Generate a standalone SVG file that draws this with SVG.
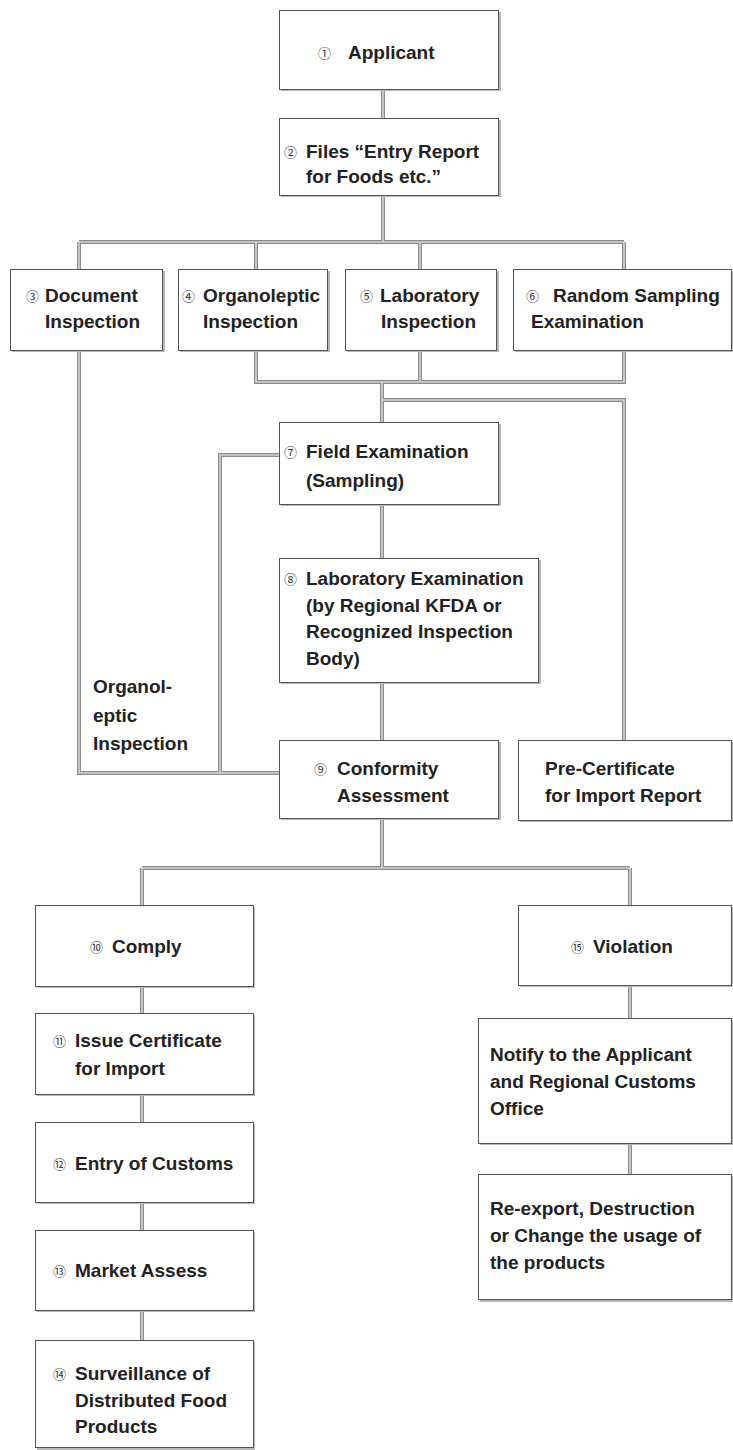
<svg xmlns="http://www.w3.org/2000/svg" width="733" height="1450" viewBox="0 0 733 1450">
<defs>
<style>
.sh{fill:#b8b8b8}
.bx{fill:#fff;stroke:#555;stroke-width:1}
.t{font-family:"Liberation Sans",Arial,sans-serif;font-weight:bold;font-size:19px;fill:#222}
.n{font-family:"Noto Sans CJK KR","DejaVu Sans",sans-serif;font-size:13px;fill:#333}
.c1{fill:none;stroke:#8c8c8c;stroke-width:4}
.c2{fill:none;stroke:#d4d4d4;stroke-width:1.6}
</style>
</defs>
<g id="connectors">
<g class="c1">
<path d="M383 90V118M383 195V242M79 242H624M79 242V269M256 242V269M420 242V269M624 242V269M79 350V773H279M256 350V382H624V350M420 350V382M382 382V422M382 400H624V740M279 455H220V773M382 504V558M382 682V740M382 818V868M142 868H630M142 868V905M630 868V905M142 986V1013M142 1094V1122M142 1202V1230M142 1310V1340M630 985V1018M630 1143V1174"/>
</g>
<g class="c2">
<path d="M383 90V118M383 195V242M79 242H624M79 242V269M256 242V269M420 242V269M624 242V269M79 350V773H279M256 350V382H624V350M420 350V382M382 382V422M382 400H624V740M279 455H220V773M382 504V558M382 682V740M382 818V868M142 868H630M142 868V905M630 868V905M142 986V1013M142 1094V1122M142 1202V1230M142 1310V1340M630 985V1018M630 1143V1174"/>
</g>
</g>
<g id="n1"><rect class="sh" x="281" y="12" width="220" height="79"/><rect class="bx" x="279.5" y="10.5" width="219" height="79"/><text class="n" x="318" y="58">①</text><text class="t" x="348" y="59">Applicant</text></g>
<g id="n2"><rect class="sh" x="281" y="120" width="220" height="77"/><rect class="bx" x="279.5" y="118.5" width="219" height="77"/><text class="n" x="284" y="157">②</text><text class="t" x="306" y="158">Files  “Entry Report</text><text class="t" x="306" y="183">for Foods etc.”</text></g>
<g id="n3"><rect class="sh" x="12" y="271" width="153" height="81"/><rect class="bx" x="10.5" y="269.5" width="152" height="81"/><text class="n" x="26" y="301">③</text><text class="t" x="45" y="302">Document</text><text class="t" x="45" y="328">Inspection</text></g>
<g id="n4"><rect class="sh" x="180" y="271" width="150" height="81"/><rect class="bx" x="178.5" y="269.5" width="149" height="81"/><text class="n" x="182" y="301">④</text><text class="t" x="203" y="302">Organoleptic</text><text class="t" x="203" y="328">Inspection</text></g>
<g id="n5"><rect class="sh" x="347" y="271" width="152" height="81"/><rect class="bx" x="345.5" y="269.5" width="151" height="81"/><text class="n" x="360" y="301">⑤</text><text class="t" x="380" y="302">Laboratory</text><text class="t" x="381" y="328">Inspection</text></g>
<g id="n6"><rect class="sh" x="515" y="271" width="218" height="81"/><rect class="bx" x="513.5" y="269.5" width="218" height="81"/><text class="n" x="526" y="301">⑥</text><text class="t" x="553" y="302">Random Sampling</text><text class="t" x="531" y="328">Examination</text></g>
<g id="n7"><rect class="sh" x="281" y="424" width="220" height="82"/><rect class="bx" x="279.5" y="422.5" width="219" height="82"/><text class="n" x="284" y="457">⑦</text><text class="t" x="306" y="458">Field Examination</text><text class="t" x="306" y="487">(Sampling)</text></g>
<g id="n8"><rect class="sh" x="281" y="560" width="260" height="124"/><rect class="bx" x="279.5" y="558.5" width="259" height="124"/><text class="n" x="284" y="584">⑧</text><text class="t" x="306" y="585">Laboratory Examination</text><text class="t" x="306" y="612">(by Regional KFDA or</text><text class="t" x="306" y="638">Recognized Inspection</text><text class="t" x="306" y="665">Body)</text></g>
<g id="n9"><rect class="sh" x="281" y="742" width="220" height="78"/><rect class="bx" x="279.5" y="740.5" width="219" height="78"/><text class="n" x="314" y="774">⑨</text><text class="t" x="337" y="775">Conformity</text><text class="t" x="337" y="802">Assessment</text></g>
<g id="lbl-organoleptic"><text class="t" x="93" y="693">Organol-</text><text class="t" x="93" y="722">eptic</text><text class="t" x="93" y="750">Inspection</text></g>
<g id="n-pre"><rect class="sh" x="520" y="742" width="213" height="80"/><rect class="bx" x="518.5" y="740.5" width="213" height="80"/><text class="t" x="545" y="775">Pre-Certificate</text><text class="t" x="545" y="802">for Import Report</text></g>
<g id="n10"><rect class="sh" x="37" y="907" width="218" height="81"/><rect class="bx" x="35.5" y="905.5" width="218" height="81"/><text class="n" x="90" y="952">⑩</text><text class="t" x="112" y="953">Comply</text></g>
<g id="n11"><rect class="sh" x="37" y="1015" width="218" height="81"/><rect class="bx" x="35.5" y="1013.5" width="218" height="81"/><text class="n" x="53" y="1046">⑪</text><text class="t" x="75" y="1047">Issue Certificate</text><text class="t" x="75" y="1075">for Import</text></g>
<g id="n12"><rect class="sh" x="37" y="1124" width="218" height="80"/><rect class="bx" x="35.5" y="1122.5" width="218" height="80"/><text class="n" x="53" y="1169">⑫</text><text class="t" x="75" y="1170">Entry of Customs</text></g>
<g id="n13"><rect class="sh" x="37" y="1232" width="218" height="80"/><rect class="bx" x="35.5" y="1230.5" width="218" height="80"/><text class="n" x="53" y="1276">⑬</text><text class="t" x="75" y="1277">Market Assess</text></g>
<g id="n14"><rect class="sh" x="37" y="1342" width="218" height="108"/><rect class="bx" x="35.5" y="1340.5" width="218" height="107"/><text class="n" x="53" y="1379">⑭</text><text class="t" x="75" y="1380">Surveillance of</text><text class="t" x="75" y="1407">Distributed Food</text><text class="t" x="75" y="1433">Products</text></g>
<g id="n15"><rect class="sh" x="520" y="907" width="213" height="80"/><rect class="bx" x="518.5" y="905.5" width="213" height="80"/><text class="n" x="571" y="952">⑮</text><text class="t" x="593" y="953">Violation</text></g>
<g id="n-notify"><rect class="sh" x="480" y="1020" width="253" height="125"/><rect class="bx" x="478.5" y="1018.5" width="253" height="125"/><text class="t" x="490" y="1061">Notify to the Applicant</text><text class="t" x="490" y="1088">and Regional Customs</text><text class="t" x="490" y="1115">Office</text></g>
<g id="n-reexport"><rect class="sh" x="480" y="1176" width="253" height="126"/><rect class="bx" x="478.5" y="1174.5" width="253" height="125"/><text class="t" x="490" y="1215">Re-export, Destruction</text><text class="t" x="490" y="1242">or Change the usage of</text><text class="t" x="490" y="1269">the products</text></g>
</svg>
